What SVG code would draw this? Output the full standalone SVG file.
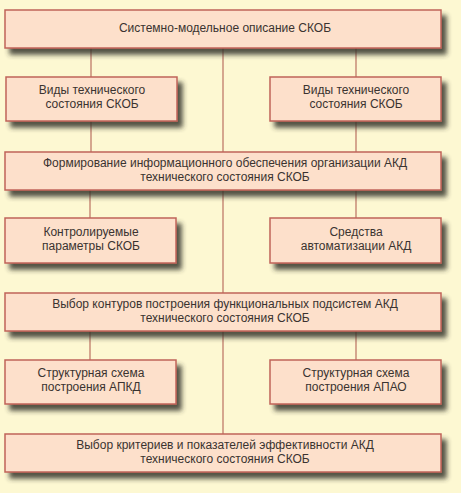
<svg xmlns="http://www.w3.org/2000/svg" width="461" height="493" viewBox="0 0 461 493">
  <defs>
    <filter id="sh" x="-10%" y="-30%" width="130%" height="180%">
      <feGaussianBlur in="SourceAlpha" stdDeviation="2.5"/>
      <feOffset dx="5" dy="6" result="b"/>
      <feComponentTransfer in="b" result="c"><feFuncA type="linear" slope="0.85"/></feComponentTransfer>
      <feFlood flood-color="#35352c"/>
      <feComposite in2="c" operator="in" result="s"/>
      <feMerge><feMergeNode in="s"/><feMergeNode in="SourceGraphic"/></feMerge>
    </filter>
  </defs>
  <style>
    .box { fill: #fde0cb; stroke: #c0645a; stroke-width: 1.5; filter: url(#sh); }
    .t { font-family: "Liberation Sans", Arial, sans-serif; font-size: 12px; fill: #3a3330; text-anchor: middle; }
    .c { stroke: #c07a6a; stroke-width: 1.3; fill: none; }
  </style>
  <rect x="0" y="0" width="461" height="493" fill="#fdf8d2"/>
  <g id="connectors">
    <line class="c" x1="223" y1="48" x2="223" y2="434"/>
    <line class="c" x1="91" y1="48" x2="91" y2="77"/>
    <line class="c" x1="91" y1="121" x2="91" y2="152"/>
    <line class="c" x1="90" y1="190" x2="90" y2="218"/>
    <line class="c" x1="90" y1="331" x2="90" y2="360"/>
    <line class="c" x1="356" y1="48" x2="356" y2="77"/>
    <line class="c" x1="356" y1="121" x2="356" y2="152"/>
    <line class="c" x1="356" y1="190" x2="356" y2="218"/>
    <line class="c" x1="356" y1="331" x2="356" y2="360"/>
  </g>
  <g id="n1">
    <rect class="box" x="5" y="10" width="436" height="38"/>
    <text class="t" x="225" y="32">Системно-модельное описание СКОБ</text>
  </g>
  <g id="n2">
    <rect class="box" x="6" y="77" width="171" height="44"/>
    <text class="t" x="92" y="94">Виды технического</text>
    <text class="t" x="92" y="108">состояния СКОБ</text>
  </g>
  <g id="n3">
    <rect class="box" x="270" y="77" width="171" height="44"/>
    <text class="t" x="356" y="94">Виды технического</text>
    <text class="t" x="356" y="108">состояния СКОБ</text>
  </g>
  <g id="n4">
    <rect class="box" x="5" y="152" width="436" height="38"/>
    <text class="t" x="225" y="167">Формирование информационного обеспечения организации АКД</text>
    <text class="t" x="225" y="181">технического состояния СКОБ</text>
  </g>
  <g id="n5">
    <rect class="box" x="5" y="218" width="171" height="45"/>
    <text class="t" x="91" y="236">Контролируемые</text>
    <text class="t" x="91" y="250">параметры СКОБ</text>
  </g>
  <g id="n6">
    <rect class="box" x="270" y="218" width="171" height="45"/>
    <text class="t" x="356" y="236">Средства</text>
    <text class="t" x="356" y="250">автоматизации АКД</text>
  </g>
  <g id="n7">
    <rect class="box" x="5" y="293" width="436" height="38"/>
    <text class="t" x="225" y="308">Выбор контуров построения функциональных подсистем АКД</text>
    <text class="t" x="225" y="322">технического состояния СКОБ</text>
  </g>
  <g id="n8">
    <rect class="box" x="5" y="360" width="171" height="44"/>
    <text class="t" x="91" y="377">Структурная схема</text>
    <text class="t" x="91" y="391">построения АПКД</text>
  </g>
  <g id="n9">
    <rect class="box" x="270" y="360" width="171" height="44"/>
    <text class="t" x="356" y="377">Структурная схема</text>
    <text class="t" x="356" y="391">построения АПАО</text>
  </g>
  <g id="n10">
    <rect class="box" x="5" y="434" width="436" height="38"/>
    <text class="t" x="225" y="449">Выбор критериев и показателей эффективности АКД</text>
    <text class="t" x="225" y="463">технического состояния СКОБ</text>
  </g>
</svg>
